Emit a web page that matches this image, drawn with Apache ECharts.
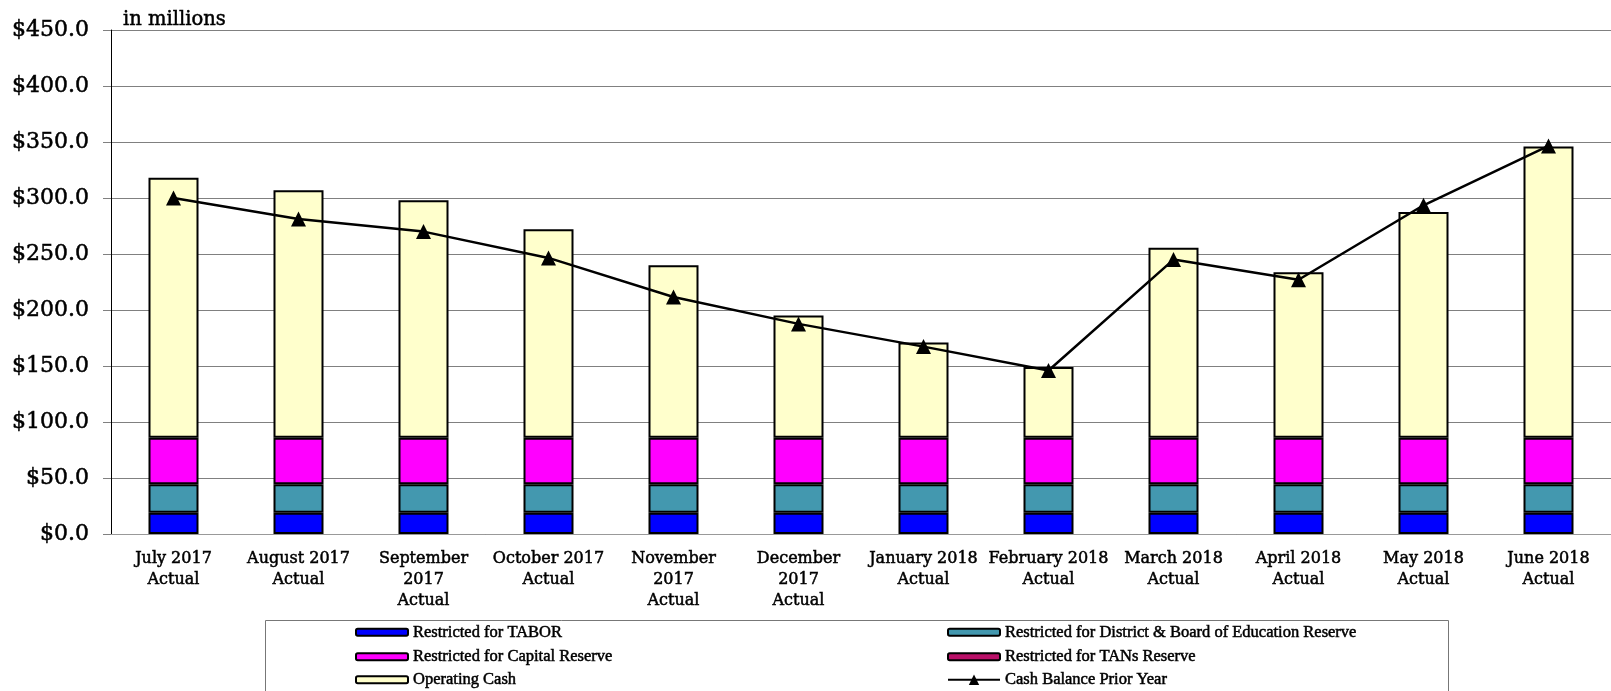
<!DOCTYPE html>
<html>
<head>
<meta charset="utf-8">
<script src="https://cdn.jsdelivr.net/npm/echarts@6/dist/echarts.min.js"></script>
<style>
html,body{margin:0;padding:0;background:#fff;}
#chart{width:1611px;height:691px;}
</style>
</head>
<body>
<div id="chart"></div>
<script>
const categories = ['July 2017\nActual','August 2017\nActual','September\n2017\nActual','October 2017\nActual','November\n2017\nActual','December\n2017\nActual','January 2018\nActual','February 2018\nActual','March 2018\nActual','April 2018\nActual','May 2018\nActual','June 2018\nActual'];
const restrictedTabor = [19.0,19.0,19.0,19.0,19.0,19.0,19.0,19.0,19.0,19.0,19.0,19.0];
const restrictedDistrict = [25.4,25.4,25.4,25.4,25.4,25.4,25.4,25.4,25.4,25.4,25.4,25.4];
const restrictedCapital = [41.6,41.6,41.6,41.6,41.6,41.6,41.6,41.6,41.6,41.6,41.6,41.6];
const restrictedTANs = [0,0,0,0,0,0,0,0,0,0,0,0];
const operatingCash = [232.0,221.0,212.0,186.0,154.0,109.0,85.0,63.0,169.6,147.6,201.6,260.0];
const cashBalancePriorYear = [300.0,281.3,270.0,246.5,211.6,187.6,167.3,146.0,245.0,227.0,293.5,346.5];

const serif = 'DejaVu Serif';
const legendFont = 'Liberation Serif';
const bolden = {textBorderColor:'#000', textBorderWidth:0.5};

function barSeries(name, data, color, bw){
  return {name, type:'bar', stack:'cash', data, barWidth:50,
    itemStyle:{color, borderColor:'#000', borderWidth:bw}, emphasis:{disabled:true}};
}
const legendText = Object.assign({fontFamily:legendFont, fontSize:16.5, color:'#000'}, bolden);
const rowTops = [623.5, 648, 671];
function legendItem(item, left, top, ih){
  return {data:[item], orient:'vertical', left, top, itemWidth:52, itemHeight:ih||7,
    selectedMode:false, padding:0, textStyle:legendText};
}

const chart = echarts.init(document.getElementById('chart'), null, {renderer:'canvas'});
chart.setOption({
  animation:false,
  backgroundColor:'#fff',
  title:{text:'in millions', left:118, top:5,
    textStyle:Object.assign({fontFamily:serif, fontSize:19.5, fontWeight:'normal', color:'#000'}, bolden)},
  grid:{left:111, top:30, width:1508, height:504},
  xAxis:{type:'category', data:categories,
    axisLine:{show:true, lineStyle:{color:'#999', width:1}},
    axisTick:{show:false},
    axisLabel:Object.assign({interval:0, margin:14, fontFamily:serif, fontSize:16, lineHeight:21, color:'#000'}, bolden)},
  yAxis:{type:'value', min:0, max:450, interval:50,
    axisLine:{show:true, lineStyle:{color:'#000', width:1}},
    axisTick:{show:true, length:8, lineStyle:{color:'#808080'}},
    splitLine:{show:true, lineStyle:{color:'#808080', width:1}},
    axisLabel:Object.assign({margin:22, fontFamily:serif, fontSize:22, color:'#000', padding:[4,0,0,0],
      formatter:v=>'$'+v.toFixed(1)}, bolden)},
  legend:[
    legendItem('Restricted for TABOR', 355, rowTops[0]),
    legendItem('Restricted for Capital Reserve', 355, rowTops[1]),
    legendItem('Operating Cash', 355, rowTops[2]),
    legendItem('Restricted for District & Board of Education Reserve', 947, rowTops[0]),
    legendItem({name:'Restricted for TANs Reserve', itemStyle:{borderColor:'#000', borderWidth:2}}, 947, rowTops[1]),
    legendItem('Cash Balance Prior Year', 947, rowTops[2], 13)
  ],
  graphic:[{type:'rect', left:263, top:618, z:-1,
    shape:{width:1183, height:71}, style:{fill:'none', stroke:'#777', lineWidth:1}}],
  series:[
    barSeries('Restricted for TABOR', restrictedTabor, '#0000FF', 2),
    barSeries('Restricted for District & Board of Education Reserve', restrictedDistrict, '#4398AF', 2),
    barSeries('Restricted for Capital Reserve', restrictedCapital, '#FF00FF', 2),
    barSeries('Restricted for TANs Reserve', restrictedTANs, '#BA1068', 0),
    barSeries('Operating Cash', operatingCash, '#FFFFCC', 2),
    {name:'Cash Balance Prior Year', type:'line', data:cashBalancePriorYear,
     symbol:'triangle', symbolSize:15, z:5,
     lineStyle:{color:'#000', width:2.5},
     itemStyle:{color:'#000', borderWidth:0},
     emphasis:{disabled:true}}
  ]
});
</script>
</body>
</html>
